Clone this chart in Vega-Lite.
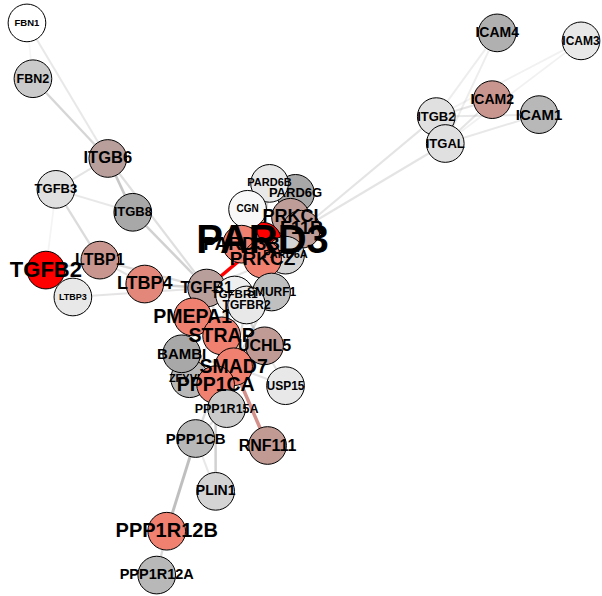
{
  "$schema": "https://vega.github.io/schema/vega-lite/v6.json",
  "width": 602,
  "height": 596,
  "padding": 0,
  "autosize": {"type": "fit", "contains": "padding"},
  "background": "white",
  "config": {"view": {"stroke": null}},
  "datasets": {
    "nodes": [
      {"id": "ZFYVE9", "x": 190, "y": 380, "v": -0.18, "fs": 11, "z": 1},
      {"id": "FBN1", "x": 27, "y": 23, "v": -1, "fs": 9.5, "z": 2},
      {"id": "FBN2", "x": 33, "y": 79, "v": -0.39, "fs": 12.5, "z": 2},
      {"id": "ICAM4", "x": 498, "y": 33, "v": -0.09, "fs": 14, "z": 2},
      {"id": "ICAM3", "x": 582, "y": 41, "v": -0.74, "fs": 12, "z": 2},
      {"id": "ICAM2", "x": 493, "y": 100, "v": 0.44, "fs": 14, "z": 2},
      {"id": "ICAM1", "x": 540, "y": 115, "v": -0.18, "fs": 15, "z": 2},
      {"id": "ITGB2", "x": 437, "y": 117, "v": -0.64, "fs": 13, "z": 2},
      {"id": "ITGAL", "x": 446, "y": 144, "v": -0.64, "fs": 13, "z": 2},
      {"id": "ITGB6", "x": 108, "y": 159, "v": 0.22, "fs": 16.5, "z": 2},
      {"id": "TGFB3", "x": 56, "y": 190, "v": -0.64, "fs": 13, "z": 2},
      {"id": "ITGB8", "x": 133, "y": 213, "v": 0, "fs": 13, "z": 2},
      {"id": "TGFB2", "x": 46, "y": 271, "v": 2, "fs": 22, "z": 2},
      {"id": "LTBP1", "x": 100, "y": 261, "v": 0.45, "fs": 16, "z": 2},
      {"id": "LTBP3", "x": 73, "y": 298, "v": -0.74, "fs": 9, "z": 2},
      {"id": "LTBP4", "x": 145, "y": 285, "v": 0.82, "fs": 18, "z": 2},
      {"id": "PARD6G", "x": 296, "y": 194, "v": 0, "fs": 13, "z": 2},
      {"id": "PARD6B", "x": 270, "y": 184, "v": -0.74, "fs": 11, "z": 2},
      {"id": "PRKCI", "x": 291, "y": 218, "v": 0.3, "fs": 18, "z": 2},
      {"id": "F11R", "x": 302, "y": 230, "v": 0.3, "fs": 18, "z": 2},
      {"id": "PARD3", "x": 263, "y": 242, "v": 2, "fs": 40, "z": 2},
      {"id": "CGN", "x": 248, "y": 210, "v": -0.92, "fs": 10, "z": 2},
      {"id": "PARD6A", "x": 286, "y": 256, "v": -0.5, "fs": 11, "z": 2},
      {"id": "PARD3B", "x": 242, "y": 245, "v": 1, "fs": 19, "z": 2},
      {"id": "PRKCZ", "x": 263, "y": 260, "v": 1, "fs": 19, "z": 2},
      {"id": "TGFB1", "x": 207, "y": 289, "v": 0.22, "fs": 16, "z": 2},
      {"id": "SMURF1", "x": 272, "y": 293, "v": -0.28, "fs": 12, "z": 2},
      {"id": "TGFBR1", "x": 235, "y": 296, "v": -0.82, "fs": 11.5, "z": 2},
      {"id": "TGFBR2", "x": 247, "y": 306, "v": -0.74, "fs": 12, "z": 2},
      {"id": "PMEPA1", "x": 193, "y": 318, "v": 1, "fs": 19.5, "z": 2},
      {"id": "BAMBI", "x": 182, "y": 355, "v": 0, "fs": 15, "z": 2},
      {"id": "STRAP", "x": 222, "y": 337, "v": 1, "fs": 19.5, "z": 2},
      {"id": "UCHL5", "x": 265, "y": 347, "v": 0.33, "fs": 16, "z": 2},
      {"id": "SMAD7", "x": 234, "y": 368, "v": 1, "fs": 19.5, "z": 2},
      {"id": "PPP1CA", "x": 216, "y": 386, "v": 1, "fs": 19.5, "z": 2},
      {"id": "USP15", "x": 286, "y": 387, "v": -0.74, "fs": 12, "z": 2},
      {"id": "PPP1R15A", "x": 227, "y": 410, "v": -0.4, "fs": 12.5, "z": 2},
      {"id": "PPP1CB", "x": 196, "y": 440, "v": -0.18, "fs": 15, "z": 2},
      {"id": "RNF111", "x": 268, "y": 447, "v": 0.35, "fs": 16, "z": 2},
      {"id": "PLIN1", "x": 216, "y": 493, "v": -0.5, "fs": 14, "z": 2},
      {"id": "PPP1R12B", "x": 167, "y": 533, "v": 1, "fs": 20, "z": 2},
      {"id": "PPP1R12A", "x": 157, "y": 577, "v": -0.18, "fs": 14.5, "z": 2}
    ],
    "edges": [
      {"s": "FBN1", "t": "ITGB6", "w": 0.25, "k": "grey"},
      {"s": "FBN2", "t": "ITGB6", "w": 0.45, "k": "grey"},
      {"s": "FBN1", "t": "FBN2", "w": 0.1, "k": "grey"},
      {"s": "ITGB6", "t": "TGFB3", "w": 0.3, "k": "grey"},
      {"s": "ITGB6", "t": "ITGB8", "w": 0.6, "k": "grey"},
      {"s": "ITGB6", "t": "TGFB1", "w": 0.35, "k": "grey"},
      {"s": "ITGB8", "t": "TGFB1", "w": 0.5, "k": "grey"},
      {"s": "TGFB3", "t": "ITGB8", "w": 0.25, "k": "grey"},
      {"s": "TGFB3", "t": "LTBP1", "w": 0.4, "k": "grey"},
      {"s": "TGFB3", "t": "TGFB2", "w": 0.12, "k": "grey"},
      {"s": "TGFB2", "t": "LTBP1", "w": 0.4, "k": "grey"},
      {"s": "TGFB2", "t": "LTBP3", "w": 0.3, "k": "grey"},
      {"s": "LTBP1", "t": "TGFB1", "w": 0.4, "k": "grey"},
      {"s": "LTBP1", "t": "LTBP4", "w": 0.3, "k": "grey"},
      {"s": "LTBP3", "t": "TGFB1", "w": 0.3, "k": "grey"},
      {"s": "LTBP4", "t": "TGFB1", "w": 0.5, "k": "grey"},
      {"s": "ITGB2", "t": "F11R", "w": 0.3, "k": "grey"},
      {"s": "ITGAL", "t": "F11R", "w": 0.3, "k": "grey"},
      {"s": "ITGB2", "t": "ICAM4", "w": 0.2, "k": "grey"},
      {"s": "ITGAL", "t": "ICAM4", "w": 0.2, "k": "grey"},
      {"s": "ITGB2", "t": "ICAM3", "w": 0.15, "k": "grey"},
      {"s": "ITGAL", "t": "ICAM3", "w": 0.15, "k": "grey"},
      {"s": "ITGB2", "t": "ICAM2", "w": 0.3, "k": "grey"},
      {"s": "ITGAL", "t": "ICAM2", "w": 0.3, "k": "grey"},
      {"s": "ITGB2", "t": "ICAM1", "w": 0.25, "k": "grey"},
      {"s": "ITGAL", "t": "ICAM1", "w": 0.25, "k": "grey"},
      {"s": "ITGB2", "t": "ITGAL", "w": 0.3, "k": "grey"},
      {"s": "TGFB1", "t": "PARD3", "w": 1, "k": "red"},
      {"s": "TGFB1", "t": "TGFBR1", "w": 0.5, "k": "grey"},
      {"s": "TGFB1", "t": "TGFBR2", "w": 0.5, "k": "grey"},
      {"s": "TGFB1", "t": "PMEPA1", "w": 0.4, "k": "grey"},
      {"s": "TGFB1", "t": "SMAD7", "w": 0.4, "k": "grey"},
      {"s": "TGFB1", "t": "BAMBI", "w": 0.4, "k": "grey"},
      {"s": "TGFB1", "t": "PARD6A", "w": 0.3, "k": "grey"},
      {"s": "TGFBR1", "t": "SMAD7", "w": 0.5, "k": "grey"},
      {"s": "TGFBR1", "t": "SMURF1", "w": 0.4, "k": "grey"},
      {"s": "TGFBR2", "t": "SMAD7", "w": 0.4, "k": "grey"},
      {"s": "TGFBR1", "t": "STRAP", "w": 0.4, "k": "grey"},
      {"s": "TGFBR1", "t": "USP15", "w": 0.3, "k": "grey"},
      {"s": "TGFBR1", "t": "UCHL5", "w": 0.3, "k": "grey"},
      {"s": "SMAD7", "t": "RNF111", "w": 1, "k": "rose"},
      {"s": "SMAD7", "t": "USP15", "w": 0.3, "k": "grey"},
      {"s": "SMAD7", "t": "PPP1CA", "w": 0.4, "k": "grey"},
      {"s": "SMAD7", "t": "SMURF1", "w": 0.4, "k": "grey"},
      {"s": "SMAD7", "t": "UCHL5", "w": 0.4, "k": "grey"},
      {"s": "SMAD7", "t": "STRAP", "w": 0.4, "k": "grey"},
      {"s": "SMAD7", "t": "PMEPA1", "w": 0.4, "k": "grey"},
      {"s": "SMAD7", "t": "BAMBI", "w": 0.4, "k": "grey"},
      {"s": "ZFYVE9", "t": "SMAD7", "w": 0.4, "k": "grey"},
      {"s": "ZFYVE9", "t": "TGFBR1", "w": 0.3, "k": "grey"},
      {"s": "PPP1CA", "t": "PPP1R15A", "w": 0.4, "k": "grey"},
      {"s": "PPP1CA", "t": "PLIN1", "w": 0.5, "k": "grey"},
      {"s": "PPP1CA", "t": "PPP1CB", "w": 0.4, "k": "grey"},
      {"s": "PPP1CB", "t": "PPP1R12B", "w": 0.7, "k": "grey"},
      {"s": "PPP1CB", "t": "PLIN1", "w": 0.25, "k": "grey"},
      {"s": "PPP1R12B", "t": "PPP1R12A", "w": 0.4, "k": "grey"},
      {"s": "PPP1CB", "t": "PPP1R15A", "w": 0.3, "k": "grey"},
      {"s": "PARD3", "t": "PARD6B", "w": 0.4, "k": "grey"},
      {"s": "PARD3", "t": "PARD6G", "w": 0.4, "k": "grey"},
      {"s": "PARD3", "t": "PRKCI", "w": 0.4, "k": "grey"},
      {"s": "PARD3", "t": "F11R", "w": 0.4, "k": "grey"},
      {"s": "PARD3", "t": "CGN", "w": 0.4, "k": "grey"},
      {"s": "PARD3", "t": "PRKCZ", "w": 0.4, "k": "grey"},
      {"s": "PARD3", "t": "PARD6A", "w": 0.4, "k": "grey"}
    ]
  },
  "layer": [
    {
      "data": {"name": "edges"},
      "transform": [
        {"lookup": "s", "from": {"data": {"name": "nodes"}, "key": "id", "fields": ["x", "y"]}, "as": ["sx", "sy"]},
        {"lookup": "t", "from": {"data": {"name": "nodes"}, "key": "id", "fields": ["x", "y"]}, "as": ["tx", "ty"]}
      ],
      "mark": {"type": "rule", "strokeCap": "butt"},
      "encoding": {
        "x": {"field": "sx", "type": "quantitative", "scale": {"domain": [0, 602], "nice": false, "zero": false}, "axis": null},
        "y": {"field": "sy", "type": "quantitative", "scale": {"domain": [0, 596], "nice": false, "zero": false, "reverse": true}, "axis": null},
        "x2": {"field": "tx"},
        "y2": {"field": "ty"},
        "stroke": {"field": "k", "type": "nominal", "scale": {"domain": ["grey", "red", "rose"], "range": ["#a4a4a4", "#ff0000", "#d4908a"]}, "legend": null},
        "opacity": {"field": "w", "type": "quantitative", "scale": {"domain": [0, 1], "range": [0, 1]}, "legend": null},
        "strokeWidth": {"field": "w", "type": "quantitative", "scale": {"domain": [0, 1], "range": [1.5, 3.5]}, "legend": null}
      }
    },
    {
      "data": {"name": "nodes"},
      "transform": [{"filter": "datum.z == 1"}],
      "mark": {"type": "circle", "size": 1420, "stroke": "black", "strokeWidth": 1, "opacity": 1},
      "encoding": {
        "x": {"field": "x", "type": "quantitative"},
        "y": {"field": "y", "type": "quantitative"},
        "fill": {"field": "v", "type": "quantitative", "scale": {"domain": [-1, 0, 1, 2], "range": ["#ffffff", "#a8a8a8", "#f08070", "#ff0000"], "interpolate": "rgb"}, "legend": null}
      }
    },
    {
      "data": {"name": "nodes"},
      "transform": [{"filter": "datum.z == 1"}],
      "mark": {"type": "text", "font": "Liberation Sans", "fontWeight": "bold", "align": "center", "baseline": "middle", "color": "black"},
      "encoding": {
        "x": {"field": "x", "type": "quantitative"},
        "y": {"field": "y", "type": "quantitative"},
        "text": {"field": "id"},
        "size": {"field": "fs", "type": "quantitative", "scale": {"type": "linear", "domain": [0, 40], "range": [0, 40]}, "legend": null}
      }
    },
    {
      "data": {"name": "nodes"},
      "transform": [{"filter": "datum.z == 2"}],
      "mark": {"type": "circle", "size": 1420, "stroke": "black", "strokeWidth": 1, "opacity": 1},
      "encoding": {
        "x": {"field": "x", "type": "quantitative"},
        "y": {"field": "y", "type": "quantitative"},
        "fill": {"field": "v", "type": "quantitative", "legend": null}
      }
    },
    {
      "data": {"name": "nodes"},
      "transform": [{"filter": "datum.z == 2"}],
      "mark": {"type": "text", "font": "Liberation Sans", "fontWeight": "bold", "align": "center", "baseline": "middle", "color": "black"},
      "encoding": {
        "x": {"field": "x", "type": "quantitative"},
        "y": {"field": "y", "type": "quantitative"},
        "text": {"field": "id"},
        "size": {"field": "fs", "type": "quantitative", "legend": null}
      }
    }
  ]
}
